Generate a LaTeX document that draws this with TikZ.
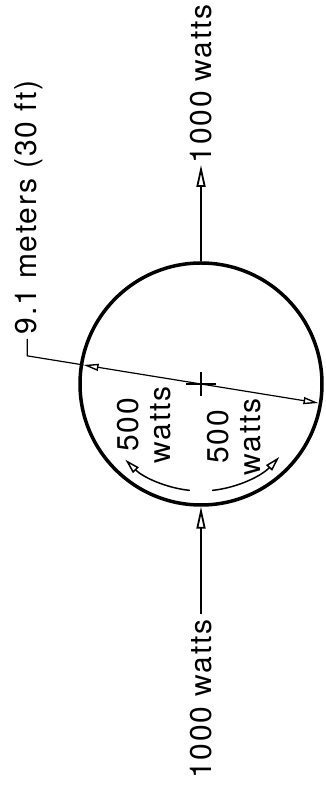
\documentclass[tikz,border=0pt]{standalone}
\usepackage{fontspec}
\setmainfont[LetterSpace=6]{TeX Gyre Heros}
\usetikzlibrary{arrows.meta}

\tikzset{
  lettering/.style={rotate=90, font=\fontsize{30}{32}\selectfont, inner sep=2pt},
  flow/.style={line width=1.5pt, -{Triangle[open, length=22pt, width=9pt, line width=1.8pt]}},
  spin/.style={line width=1.5pt, -{Triangle[open, length=15pt, width=8pt, line width=1.5pt]}},
  dimension/.style={line width=1.2pt, {Triangle[open, length=15pt, width=7pt, line width=1.4pt]}-{Triangle[open, length=15pt, width=7pt, line width=1.4pt]}},
}

\begin{document}
\begin{tikzpicture}[x=1pt, y=1pt, line width=1.2pt]
\useasboundingbox (0,0) rectangle (326,796);

% sphere and its centre
\coordinate (c) at (201,412);
\node[draw, circle, line width=3.5pt, minimum size=242pt, inner sep=0pt] (sphere) at (c) {};
\draw (c) ++(-15,0) -- ++(30,0);
\draw (c) ++(0,-12) -- ++(0,24);

% power in and out
\node[lettering, anchor=west, inner sep=1pt] (pout) at (201,631) {1000 watts};
\node[lettering, anchor=east, inner sep=5pt] (pin) at (201,182) {1000 watts};
\draw[flow] (sphere.north) -- (pout.west);
\draw[flow] (pin.east) -- (sphere.south);

% diameter with leader to its note
\node[lettering, anchor=west, inner sep=4pt] (note) at (29,457) {9.1 meters (30 ft)};
\coordinate (dL) at ([shift={(170.8:119)}]c);
\coordinate (dR) at ([shift={(-9.2:119)}]c);
\coordinate (bend) at ([shift={(170.8:176)}]c);
\draw[dimension] (dL) -- (dR);
\draw (dL) -- (bend) -- (bend |- note.west);

% half of the power each way round
\draw[spin] ([shift={(-96:107)}]c) arc[start angle=-96, end angle=-135, radius=107];
\draw[spin] ([shift={(-84:107)}]c) arc[start angle=-84, end angle=-43, radius=107];
\node[lettering, align=center] (halfL) at (144,371) {500\\watts};
\node[lettering, align=center] (halfR) at (234,359) {500\\watts};

\end{tikzpicture}
\end{document}
